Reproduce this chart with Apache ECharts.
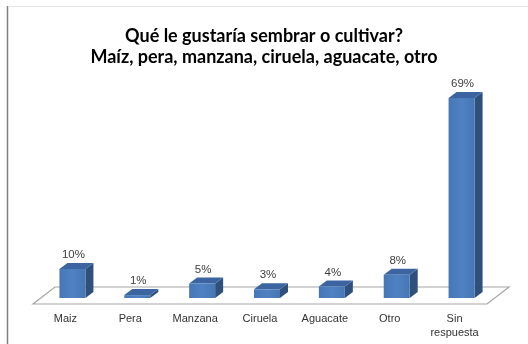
<!DOCTYPE html>
<html>
<head>
<meta charset="utf-8">
<script src="https://cdn.jsdelivr.net/npm/echarts@6/dist/echarts.min.js"></script>
<style>
  html, body { margin: 0; padding: 0; background: #fff; }
  #chart { width: 528px; height: 344px; }
</style>
</head>
<body>
<div id="chart"></div>
<script>
// Survey answers: what would you like to sow or grow?
const categories = ['Maiz', 'Pera', 'Manzana', 'Ciruela', 'Aguacate', 'Otro', 'Sin\nrespuesta'];
const percentages = [10, 1, 5, 3, 4, 8, 69];

const chart = echarts.init(document.getElementById('chart'), null, { renderer: 'canvas' });

// Pseudo-3D geometry (pixels)
const BAR_W = 26;       // front face width
const BAR_SHIFT = 7;    // bars sit mid-depth on the floor
const DEPTH = [8, -6];  // bar depth offset
const FLOOR_FRONT = 6;  // floor front edge below bar base
const FLOOR_BACK = [22, -17];

function renderFloor(params, api) {
  const band = api.size([1, 0])[0];
  const first = api.coord([0, 0]);
  const last = api.coord([categories.length - 1, 0]);
  const xl = first[0] - band / 2;
  const xr = last[0] + band / 2;
  const yf = first[1] + FLOOR_FRONT;
  return {
    type: 'polygon',
    shape: {
      points: [
        [xl, yf],
        [xr, yf],
        [xr + FLOOR_BACK[0], yf + FLOOR_BACK[1]],
        [xl + FLOOR_BACK[0], yf + FLOOR_BACK[1]]
      ]
    },
    style: { fill: '#ffffff', stroke: '#a6a6a6', lineWidth: 1.2 },
    silent: true
  };
}

function renderBar(params, api) {
  const idx = api.value(0);
  const val = api.value(1);
  const base = api.coord([idx, 0]);
  const top = api.coord([idx, val]);
  const cx = base[0] + BAR_SHIFT;
  const x0 = cx - BAR_W / 2;
  const x1 = cx + BAR_W / 2;
  const yb = base[1];
  const yt = top[1];
  const dx = DEPTH[0], dy = DEPTH[1];
  return {
    type: 'group',
    children: [
      {
        type: 'polygon',
        shape: { points: [[x1, yt], [x1 + dx, yt + dy], [x1 + dx, yb + dy], [x1, yb]] },
        style: { fill: '#30507c' }
      },
      {
        type: 'polygon',
        shape: { points: [[x0, yt], [x0 + dx, yt + dy], [x1 + dx, yt + dy], [x1, yt]] },
        style: { fill: '#3b64a0' }
      },
      {
        type: 'rect',
        shape: { x: x0, y: yt, width: BAR_W, height: yb - yt },
        style: {
          fill: new echarts.graphic.LinearGradient(0, 0, 1, 0, [
            { offset: 0, color: '#4676b6' },
            { offset: 0.5, color: '#4f82c2' },
            { offset: 1, color: '#4676b4' }
          ])
        }
      },
      {
        type: 'text',
        style: {
          x: cx + 1,
          y: yt + dy - 2,
          text: val + '%',
          fill: '#404040',
          font: '11.5px "Liberation Sans", Arial, sans-serif',
          align: 'center',
          verticalAlign: 'bottom'
        }
      }
    ]
  };
}

chart.setOption({
  animation: false,
  backgroundColor: '#ffffff',
  title: {
    text: 'Qué le gustaría sembrar o cultivar?\nMaíz, pera, manzana, ciruela, aguacate, otro',
    left: 'center',
    top: 26,
    padding: 0,
    textStyle: {
      fontFamily: 'Lato, "Open Sans", sans-serif',
      fontWeight: 'bold',
      fontSize: 18,
      lineHeight: 21,
      color: '#000000'
    }
  },
  graphic: [
    { type: 'line', shape: { x1: 7.5, y1: 6, x2: 7.5, y2: 344 }, style: { stroke: '#7f7f7f', lineWidth: 1.5 }, silent: true },
    { type: 'line', shape: { x1: 8, y1: 6.5, x2: 528, y2: 6.5 }, style: { stroke: '#e6e6e6', lineWidth: 1 }, silent: true }
  ],
  grid: { left: 33, right: 41, top: 66, bottom: 46 },
  xAxis: {
    type: 'category',
    data: categories,
    boundaryGap: true,
    axisLine: { show: false },
    axisTick: { show: false },
    axisLabel: {
      margin: 14,
      color: '#333333',
      fontFamily: '"Liberation Sans", Arial, sans-serif',
      fontSize: 11,
      lineHeight: 14,
      interval: 0
    }
  },
  yAxis: {
    type: 'value',
    min: 0,
    max: 80,
    show: false,
    splitLine: { show: false }
  },
  series: [
    {
      type: 'custom',
      name: 'floor',
      renderItem: renderFloor,
      data: [[0, 0]],
      z: 1,
      silent: true
    },
    {
      type: 'custom',
      name: 'Porcentaje',
      renderItem: renderBar,
      data: percentages.map((v, i) => [i, v]),
      encode: { x: 0, y: 1 },
      z: 2
    }
  ]
});
</script>
</body>
</html>
